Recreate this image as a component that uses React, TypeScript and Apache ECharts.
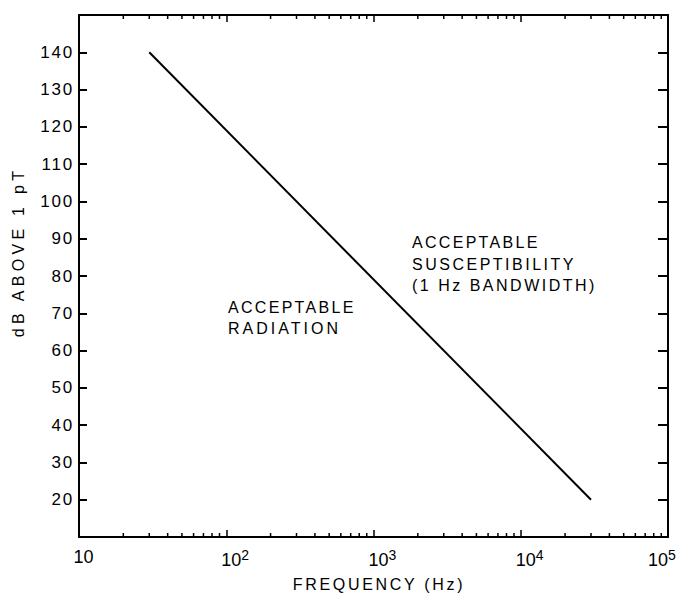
import React, { useEffect, useRef } from "react";
import * as echarts from "echarts";

// Data
const lineFreqHz = [30, 30000];
const lineDb = [140, 20];
const xMin = 10;
const xMax = 100000;
const yMin = 10;
const yMax = 150;
const yInterval = 10;
const decadeStarts = [10, 100, 1000, 10000];
const minorMultipliers = [2, 3, 4, 5, 6, 7, 8, 9];
const supLabels: Record<number, string> = { 10: "10", 100: "2", 1000: "3", 10000: "4", 100000: "5" };
const yTitle = "dB ABOVE 1 pT";
const xTitle = "FREQUENCY (Hz)";
const radiationText = "ACCEPTABLE\nRADIATION";
const susceptText = "ACCEPTABLE\nSUSCEPTIBILITY\n(1 Hz BANDWIDTH)";

const FONT = "'Liberation Sans', Arial, Helvetica, sans-serif";

const letterSpacing: Record<string, number> = {
  ACCEPTABLE: 2.3,
  RADIATION: 3.0,
  SUSCEPTIBILITY: 2.5,
  "(1 Hz BANDWIDTH)": 2.5,
  [xTitle]: 2.7,
  [yTitle]: 4.3,
};

export default function App() {
  const ref = useRef<HTMLDivElement>(null);
  useEffect(() => {
    if (!ref.current) return;
    const chart = echarts.init(ref.current, null, { renderer: "svg" });
    const minorTicks: number[][] = [];
    decadeStarts.forEach((d) => minorMultipliers.forEach((m) => minorTicks.push([d * m])));
    const lineData = lineFreqHz.map((f, i) => [f, lineDb[i]]);

    const option: any = {
      animation: false,
      backgroundColor: "#ffffff",
      textStyle: { fontFamily: FONT, color: "#000" },
      grid: { left: 79, top: 15, right: 13, bottom: 56, containLabel: false, outerBoundsMode: "none" },
      xAxis: [
        {
          type: "log",
          logBase: 10,
          min: xMin,
          max: xMax,
          position: "bottom",
          axisLine: { show: true, lineStyle: { color: "#000", width: 2 } },
          axisTick: { show: true, inside: true, length: 7, lineStyle: { color: "#000", width: 1.5 } },
          splitLine: { show: false },
          axisLabel: {
            show: true,
            margin: 11,
            color: "#000",
            hideOverlap: false,
            formatter: (v: number) => {
              const r = Math.round(v);
              if (r === 10) return "{b0|10}";
              if (r === xMax) return "{b|10}{sr|" + (supLabels[r] ?? "") + "}";
              return "{bp|10}{s|" + (supLabels[r] ?? "") + "}";
            },
            rich: {
              b: { fontSize: 18, fontFamily: FONT, color: "#000" },
              b0: { fontSize: 18, fontFamily: FONT, color: "#000", padding: [0, 0, 0, 9] },
              bp: { fontSize: 18, fontFamily: FONT, color: "#000", padding: [0, 0, 0, 18] },
              s: { fontSize: 14, fontFamily: FONT, color: "#000", verticalAlign: "bottom", padding: [0, 0, 10, 0] },
              sr: { fontSize: 14, fontFamily: FONT, color: "#000", verticalAlign: "bottom", padding: [0, 12, 10, 0] },
            },
          },
        },
        {
          type: "log",
          logBase: 10,
          min: xMin,
          max: xMax,
          position: "top",
          axisLine: { show: true, lineStyle: { color: "#000", width: 2 } },
          axisTick: { show: true, inside: true, length: 7, lineStyle: { color: "#000", width: 1.5 } },
          splitLine: { show: false },
          axisLabel: { show: false },
        },
      ],
      yAxis: [
        {
          type: "value",
          min: yMin,
          max: yMax,
          interval: yInterval,
          position: "left",
          axisLine: { show: true, lineStyle: { color: "#000", width: 2 } },
          axisTick: { show: true, inside: true, length: 8, lineStyle: { color: "#000", width: 2 } },
          splitLine: { show: false },
          axisLabel: {
            show: true,
            margin: 5,
            fontSize: 17,
            fontFamily: FONT,
            color: "#000",
            formatter: (v: number) => (v === yMin || v === yMax ? "" : String(v)),
          },
        },
        {
          type: "value",
          min: yMin,
          max: yMax,
          interval: yInterval,
          position: "right",
          axisLine: { show: true, lineStyle: { color: "#000", width: 2 } },
          axisTick: { show: true, inside: true, length: 10, lineStyle: { color: "#000", width: 2 } },
          splitLine: { show: false },
          axisLabel: { show: false },
        },
      ],
      series: [
        {
          type: "line",
          data: lineData,
          xAxisIndex: 0,
          yAxisIndex: 0,
          symbol: "none",
          lineStyle: { color: "#000", width: 2 },
        },
        {
          type: "custom",
          xAxisIndex: 0,
          yAxisIndex: 0,
          data: minorTicks,
          encode: { x: 0 },
          clip: false,
          silent: true,
          renderItem: (params: any, api: any) => {
            const v = api.value(0);
            const pb = api.coord([v, yMin]);
            const pt = api.coord([v, yMax]);
            return {
              type: "group",
              children: [
                { type: "line", shape: { x1: pb[0], y1: pb[1], x2: pb[0], y2: pb[1] - 4 }, style: { stroke: "#000", lineWidth: 1.5 } },
                { type: "line", shape: { x1: pt[0], y1: pt[1], x2: pt[0], y2: pt[1] + 4 }, style: { stroke: "#000", lineWidth: 1.5 } },
              ],
            };
          },
        },
      ],
      graphic: [
        {
          type: "text",
          x: 18,
          y: 252,
          rotation: Math.PI / 2,
          style: { text: yTitle, fontSize: 16, fontFamily: FONT, fill: "#000", align: "center", verticalAlign: "middle" },
        },
        {
          type: "text",
          x: 379,
          y: 584,
          style: { text: xTitle, fontSize: 16, fontFamily: FONT, fill: "#000", align: "center", verticalAlign: "middle" },
        },
        {
          type: "text",
          left: 228,
          top: 297,
          style: { text: radiationText, fontSize: 16, fontFamily: FONT, fill: "#000", lineHeight: 21 },
        },
        {
          type: "text",
          left: 412,
          top: 232,
          style: { text: susceptText, fontSize: 16, fontFamily: FONT, fill: "#000", lineHeight: 21.5 },
        },
      ],
    };
    chart.setOption(option);

    const applySpacing = () => {
      const root = ref.current;
      if (!root) return;
      root.querySelectorAll("text").forEach((t) => {
        const s = (t.textContent || "").trim();
        if (letterSpacing[s] != null) {
          t.setAttribute("letter-spacing", String(letterSpacing[s]));
        } else if (/^\d+$/.test(s) && t.getAttribute("text-anchor") === "end") {
          t.setAttribute("letter-spacing", "1.8");
        }
      });
    };
    applySpacing();
    chart.on("finished", applySpacing);
    const timer = setTimeout(applySpacing, 50);
    return () => {
      clearTimeout(timer);
      chart.dispose();
    };
  }, []);
  return <div ref={ref} style={{ position: "fixed", left: 0, top: 0, width: 681, height: 593 }} />;
}
